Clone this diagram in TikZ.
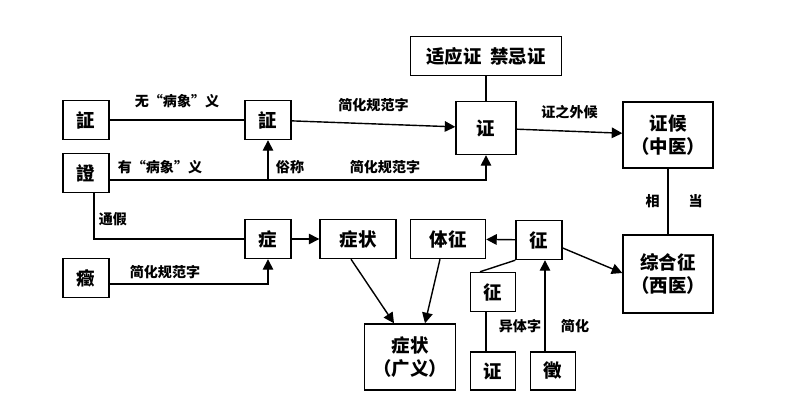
\documentclass[tikz,border=0pt]{standalone}
\usepackage{fontspec}
\setmainfont{Noto Sans CJK SC}
\usetikzlibrary{arrows.meta,calc}

\begin{document}
\begin{tikzpicture}[x=0.02cm, y=-0.02cm, font=\fontsize{10.5}{13}\selectfont\bfseries]

\tikzset{
	box/.style = {
		draw, thick, fill = white, inner sep = 0pt, align = center
	},
	arr/.style = {
		thick, -{Triangle[length=6pt, width=6pt]}
	},
	lbl/.style = {
		font = \fontsize{8}{10}\selectfont\bfseries
	}
}
\useasboundingbox (0,0) rectangle (799,412);

\node[box, minimum width=46*0.02cm, minimum height=39*0.02cm] (ZhengL) at (86,120) {証};
\node[box, minimum width=46*0.02cm, minimum height=39*0.02cm] (Deng) at (86,173) {證};
\node[box, minimum width=46*0.02cm, minimum height=39*0.02cm] (Zheng4) at (86,278) {癥};
\node[box, minimum width=46*0.02cm, minimum height=39*0.02cm] (ZhengM) at (268,120) {証};
\node[box, minimum width=46*0.02cm, minimum height=39*0.02cm] (ZhengS) at (268,239) {症};
\node[box, minimum width=76*0.02cm, minimum height=39*0.02cm] (ZZ) at (358,239) {症状};
\node[box, minimum width=75*0.02cm, minimum height=39*0.02cm] (TZ) at (448,239) {体征};
\node[box, minimum width=91*0.02cm, minimum height=66*0.02cm] (ZZG) at (410,357) {症状\\（广义）};
\node[box, minimum width=60*0.02cm, minimum height=53*0.02cm] (Z) at (486,128) {证};
\node[box, minimum width=151*0.02cm, minimum height=39*0.02cm] (SY) at (486,56) {适应证\ \ 禁忌证};
\node[box, minimum width=90*0.02cm, minimum height=66*0.02cm] (ZH) at (668,135) {证候\\（中医）};
\node[box, minimum width=90*0.02cm, minimum height=78*0.02cm] (ZHZ) at (668,274) {综合征\\（西医）};
\node[box, minimum width=46*0.02cm, minimum height=39*0.02cm] (Zh) at (539,240) {征};
\node[box, minimum width=45*0.02cm, minimum height=39*0.02cm] (ZhY) at (493,292) {征};
\node[box, minimum width=45*0.02cm, minimum height=38*0.02cm] (ZhB) at (493,371) {证};
\node[box, minimum width=45*0.02cm, minimum height=38*0.02cm] (Hui) at (553,371) {徵};

% 上部
\draw[thick] (ZhengL) -- node[lbl, above=3pt] {无“病象”义} (ZhengM);
\draw[arr] (ZhengM) -- node[lbl, above=3pt] {简化规范字} (Z);
\draw[arr] (Deng.east |- 0,180) -| (Z.south);
\draw[arr] (ZhengM.south |- 0,180) -- (ZhengM.south);
\node[lbl] (L1) at (160,167) {有“病象”义};
\node[lbl] (L2) at (290,167) {俗称};
\node[lbl] (L3) at (385,167) {简化规范字};
\draw[thick] (SY) -- (Z);
\draw[arr] (Z) -- node[lbl, above=3pt] {证之外候} (ZH);
\draw[thick] (ZH) -- node[lbl, left=1pt] {相} node[lbl, right=8pt] {当} (ZHZ);

% 下部
\draw[thick] (Deng.south -| 94,0) |- (ZhengS.west);
\node[lbl] (L4) at (113,219) {通假};
\draw[arr] (Zheng4.east |- 0,284) -| (ZhengS.south);
\node[lbl] (L5) at (165,272) {简化规范字};
\draw[arr] (ZhengS) -- (ZZ);
\draw[arr] (Zh) -- (TZ);
\draw[arr] (ZZ.south -| 351,0) -- (ZZG.north -| 394,0);
\draw[arr] (TZ.south -| 440,0) -- (ZZG.north -| 425,0);
\draw[arr] (Zh.east |- 0,248) -- (ZHZ.west |- 0,273);
\draw[thick] (ZhY.north -| 480,0) -- (Zh.south west);
\draw[thick] (ZhB.north -| 486,0) -- (ZhY.south -| 486,0);
\draw[arr] (Hui.north -| 545,0) -- (Zh.south -| 545,0);
\node[lbl] (L6) at (520,326) {异体字};
\node[lbl] (L7) at (575,326) {简化};
\end{tikzpicture}
\end{document}
